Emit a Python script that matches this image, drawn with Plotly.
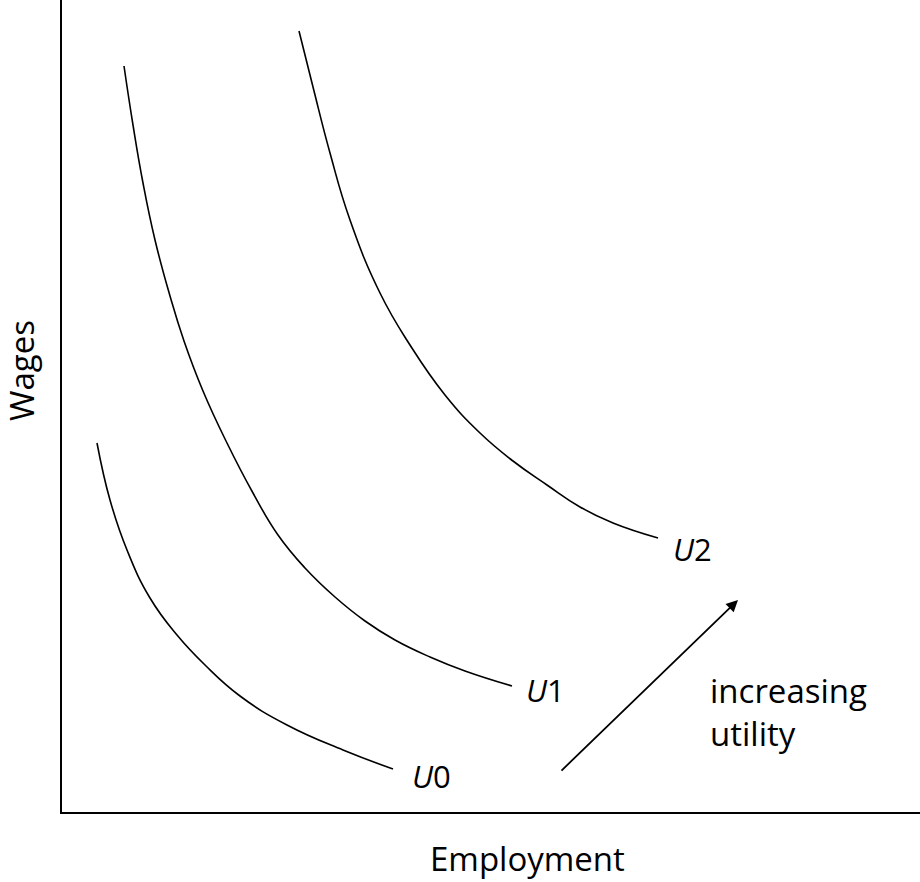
import plotly.graph_objects as go

# Indifference curves (x = employment, y = wages; units ~ pixels from the axes origin)
u0_x = [35, 48, 65, 88, 115, 143, 178, 225, 281, 331]
u0_y = [369, 312, 262, 214, 177, 147, 116, 87, 62, 43]
u1_x = [62, 71, 81, 93, 108, 122, 141, 165, 191, 216, 243, 273, 303, 333, 368, 403, 450]
u1_y = [746, 687, 629, 572, 516, 471, 421, 369, 319, 277, 244, 215, 191, 172, 155, 141, 126]
u2_x = [237, 251, 268, 288, 318, 348, 383, 418, 451, 485, 518, 551, 596]
u2_y = [781, 725, 659, 592, 519, 467, 417, 379, 351, 327, 305, 289, 274]
labels = ["<i>U</i>0", "<i>U</i>1", "<i>U</i>2"]
label_x = [369, 483, 630]
label_y = [36, 122, 263]
arrow_start = (498, 40)
arrow_end = (676, 212)

fig = go.Figure()
for xs, ys in [(u0_x, u0_y), (u1_x, u1_y), (u2_x, u2_y)]:
    fig.add_trace(go.Scatter(x=xs, y=ys, mode="lines",
                             line=dict(color="black", width=1.6, shape="spline", smoothing=1.3),
                             hoverinfo="skip", showlegend=False))

font = dict(family="Open Sans, Noto Sans, sans-serif", size=33, color="black")
lab_font = dict(family="Open Sans, Noto Sans, sans-serif", size=31, color="black")
for t, x, y in zip(labels, label_x, label_y):
    fig.add_annotation(x=x, y=y, text=t, showarrow=False, font=lab_font,
                       xanchor="center", yanchor="middle")

fig.add_annotation(x=arrow_end[0], y=arrow_end[1], ax=arrow_start[0], ay=arrow_start[1],
                   xref="x", yref="y", axref="x", ayref="y", text="", showarrow=True,
                   arrowhead=2, arrowsize=1.3, arrowwidth=1.8, arrowcolor="black")
fig.add_annotation(x=646, y=122, text="increasing", showarrow=False, font=font,
                   xanchor="left", yanchor="middle")
fig.add_annotation(x=646, y=79, text="utility", showarrow=False, font=font,
                   xanchor="left", yanchor="middle")

fig.add_annotation(xref="paper", yref="paper", x=(527 - 62) / 858, y=-47 / 812,
                   text="Employment", showarrow=False, font=font, xanchor="center", yanchor="middle")
fig.add_annotation(xref="paper", yref="paper", x=(21 - 62) / 858, y=(812 - 371) / 812,
                   text="Wages", showarrow=False, font=font, textangle=-90,
                   xanchor="center", yanchor="middle")

fig.update_xaxes(range=[0, 858], showline=True, linecolor="black", linewidth=2,
                 showgrid=False, zeroline=False, showticklabels=False, ticks="")
fig.update_yaxes(range=[0, 812], showline=True, linecolor="black", linewidth=2,
                 showgrid=False, zeroline=False, showticklabels=False, ticks="")
fig.update_layout(width=920, height=882, margin=dict(l=62, r=0, t=0, b=70),
                  plot_bgcolor="white", paper_bgcolor="white")
fig.write_html("out.html", config={"displayModeBar": False},
               post_script="document.body.style.margin='0px';")
